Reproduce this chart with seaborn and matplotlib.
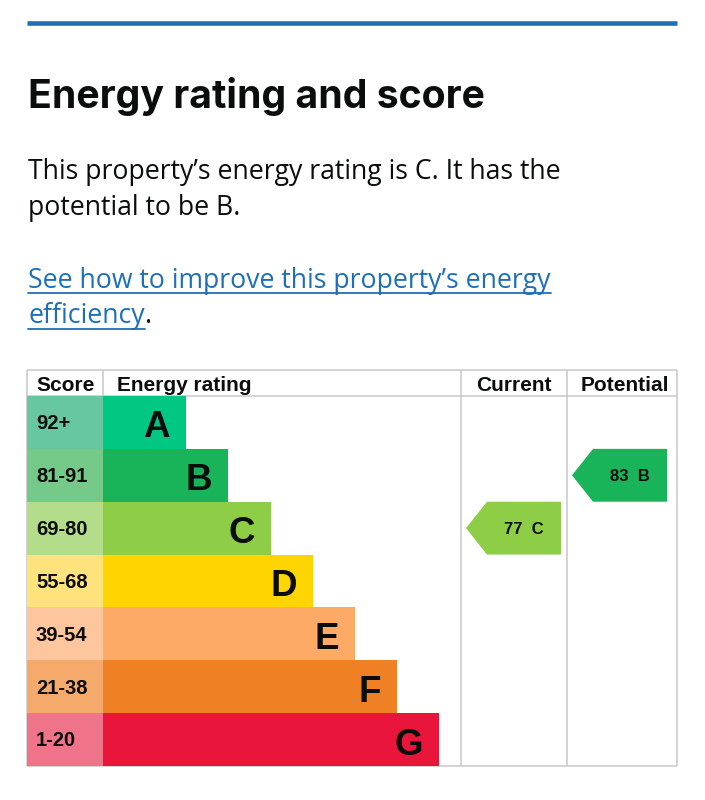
import matplotlib
matplotlib.use("Agg")
import matplotlib.pyplot as plt
import seaborn as sns
from matplotlib.patches import Polygon, Rectangle
from matplotlib.lines import Line2D
from matplotlib.textpath import TextPath
from matplotlib.font_manager import FontProperties, findfont
from matplotlib.transforms import offset_copy

# ---------------- data ----------------
bands = ["A", "B", "C", "D", "E", "F", "G"]
score_ranges = ["92+", "81-91", "69-80", "55-68", "39-54", "21-38", "1-20"]
band_min = [92, 81, 69, 55, 39, 21, 1]
bar_lengths = [83, 125, 168, 210, 252, 294, 336]
bar_colors = ["#00c781", "#19b459", "#8dce46", "#ffd500", "#fcaa65", "#ef8023", "#e9153b"]
score_colors = ["#66c7a0", "#75ca8a", "#b3dd8b", "#fee27b", "#fdc69c", "#f5aa6c", "#f07489"]
current_score = 77
potential_score = 83
col_headers = ["Score", "Energy rating", "Current", "Potential"]

title = "Energy rating and score"
body_lines = ["This property\u2019s energy rating is C. It has the", "potential to be B."]
link_lines = ["See how to improve this property\u2019s energy", "efficiency"]

# ---------------- setup ----------------
sns.set_theme(style="white")
plt.rcParams["font.family"] = ["Liberation Sans", "DejaVu Sans"]

W, H = 705, 800
fig = plt.figure(figsize=(W / 100, H / 100), dpi=100)
fig.patch.set_facecolor("white")


def fx(px):
    return px / W


def fy(py):
    return 1 - py / H


def fit_font(text, weight, target_w, target_cap, candidates):
    best = None
    for fam in candidates:
        fp = FontProperties(family=fam, weight=weight)
        try:
            path = findfont(fp, fallback_to_default=False)
        except Exception:
            continue
        low = path.lower()
        if weight == "bold" and "bold" not in low:
            continue
        if weight != "bold" and "bold" in low:
            continue
        w = TextPath((0, 0), text, size=100, prop=fp).get_extents().width
        cap = TextPath((0, 0), "H", size=100, prop=fp).get_extents().height
        size_px = 100 * target_w / w
        capfit = cap * size_px / 100
        err = abs(capfit - target_cap)
        if best is None or err < best[0]:
            best = (err, fam, size_px * 72 / 100)
    if best is None:
        return "DejaVu Sans", 20
    return best[1], best[2]


cands = ["Lato", "Roboto", "Open Sans", "Noto Sans", "Inter", "Liberation Sans", "DejaVu Sans"]

# top blue rule
fig.add_artist(Line2D([fx(27), fx(677)], [fy(23), fy(23)], color="#1d70b8", lw=3.3,
                      solid_capstyle="butt", transform=fig.transFigure))

# title
tfam, tsize = fit_font(title, "bold", 453, 29, cands)
fig.text(fx(28), fy(108.5), title, family=tfam, fontsize=tsize, fontweight="bold",
         color="#0b0c0c", ha="left", va="baseline")

# body
bfam, bsize = fit_font(body_lines[0], "normal", 532, 19.3, cands)
for line, base in zip(body_lines, [179.5, 215.3]):
    fig.text(fx(28), fy(base), line, family=bfam, fontsize=bsize, color="#0b0c0c",
             ha="left", va="baseline")

# link
renderer = fig.canvas.get_renderer()
link_color = "#1d70b8"
for i, (line, base) in enumerate(zip(link_lines, [287.8, 323.4])):
    t = fig.text(fx(28), fy(base), line, family=bfam, fontsize=bsize, color=link_color,
                 ha="left", va="baseline")
    bb = t.get_window_extent(renderer)
    uy = fy(base + 5.2)
    fig.add_artist(Line2D([bb.x0 / W, bb.x1 / W], [uy, uy], color=link_color, lw=1.3,
                          transform=fig.transFigure))
    if i == 1:
        fig.text(bb.x1 / W + 0.5 / W, fy(base), ".", family=bfam, fontsize=bsize,
                 color="#0b0c0c", ha="left", va="baseline")

# ---------------- chart table ----------------
top_px, hdr_px, bot_px = 370, 396, 766
left_px, bar0_px, right_px = 27, 103, 677
row_h = (bot_px - hdr_px) / len(bands)
hdr = (hdr_px - top_px) / row_h

ax = fig.add_axes([fx(left_px), fy(bot_px), (right_px - left_px) / W, (bot_px - top_px) / H])
sns.barplot(x=bar_lengths, y=bands, hue=bands, palette=bar_colors, orient="h", width=1,
            saturation=1, legend=False, linewidth=0, ax=ax, zorder=2)

x_left = left_px - bar0_px
x_right = right_px - bar0_px
cur_col = (461 - bar0_px, 567 - bar0_px)
pot_col = (567 - bar0_px, x_right)
ax.set_xlim(x_left, x_right)
ax.set_ylim(len(bands) - 0.5, -0.5 - hdr)
ax.set_axis_off()

# score cells
for i, c in enumerate(score_colors):
    ax.add_patch(Rectangle((x_left, i - 0.5), -x_left, 1, facecolor=c, lw=0, zorder=2))

# grid lines
gcol = "#c8c8c8"
glw = 1.1
y_top = -0.5 - hdr
y_bot = len(bands) - 0.5
kw = dict(color=gcol, lw=glw, clip_on=False, zorder=1, solid_capstyle="butt")
ax.plot([x_left, x_right], [y_top, y_top], **kw)
ax.plot([x_left, x_right], [-0.5, -0.5], **kw)
ax.plot([x_left, x_right], [y_bot, y_bot], **kw)
for xv in [x_left, 0, cur_col[0], pot_col[0], x_right]:
    ax.plot([xv, xv], [y_top, y_bot], **kw)

# header labels
hdr_base = 390.7
for label, px in zip(col_headers, [36, 117, 476, 581]):
    fig.text(fx(px), fy(hdr_base), label, fontsize=15, fontweight="bold", color="#0b0c0c",
             ha="left", va="baseline")

# score labels
sc_tr = offset_copy(ax.transData, fig=fig, x=0, y=-6.8, units="dots")
for i, s in enumerate(score_ranges):
    ax.text(36 - bar0_px, i, s, transform=sc_tr, fontsize=14.5, fontweight="bold",
            color="#0b0c0c", ha="left", va="baseline", zorder=4)

# band letters
bl_tr = offset_copy(ax.transData, fig=fig, x=0, y=-15, units="dots")
for i, (b, L) in enumerate(zip(bands, bar_lengths)):
    ax.text(L - 16, i, b, transform=bl_tr, fontsize=26.5, fontweight="bold",
            color="#0b0c0c", ha="right", va="baseline", zorder=4)


def band_index(score):
    for i, m in enumerate(band_min):
        if score >= m:
            return i
    return len(band_min) - 1


def draw_arrow(score, col):
    i = band_index(score)
    tip = col[0] + 5
    rl = tip + 21
    rr = tip + 95
    verts = [(tip, i), (rl, i - 0.5), (rr, i - 0.5), (rr, i + 0.5), (rl, i + 0.5)]
    ax.add_patch(Polygon(verts, closed=True, facecolor=bar_colors[i], lw=0, zorder=3))
    tr = offset_copy(ax.transData, fig=fig, x=0, y=-5.8, units="dots")
    ax.text((rl + rr) / 2, i, f"{score}  {bands[i]}", transform=tr, fontsize=12,
            fontweight="bold", color="#0b0c0c", ha="center", va="baseline", zorder=4)


draw_arrow(current_score, cur_col)
draw_arrow(potential_score, pot_col)

fig.savefig("out.png", dpi=100, facecolor="white")
